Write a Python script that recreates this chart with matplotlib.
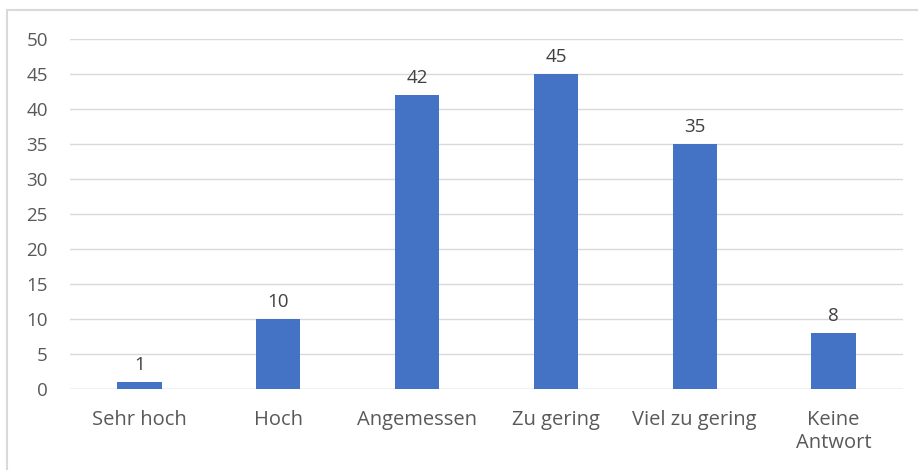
import matplotlib.pyplot as plt
from matplotlib.patches import Rectangle

categories = ['Sehr hoch', 'Hoch', 'Angemessen', 'Zu gering', 'Viel zu gering', 'Keine\nAntwort']
values = [1, 10, 42, 45, 35, 8]
yticks = [0, 5, 10, 15, 20, 25, 30, 35, 40, 45, 50]

plt.rcParams['font.family'] = ['Open Sans', 'DejaVu Sans']
text_col = '#595959'
grid_col = '#d9d9d9'

fig = plt.figure(figsize=(9.18, 4.7), dpi=100)
ax = fig.add_axes([70 / 918, 1 - 389 / 470, 833 / 918, 350 / 470])

# chart frame
fig.patches.append(Rectangle((7 / 918, -0.05), 1.0, 1 - 10 / 470 + 0.05,
                             transform=fig.transFigure, fill=False,
                             edgecolor=grid_col, linewidth=1.5))

x = range(len(categories))
bars = ax.bar(x, values, width=0.32, color='#4472C4', zorder=3)
for b, v in zip(bars, values):
    ax.text(b.get_x() + b.get_width() / 2, v + 1.2, str(v), ha='center', va='bottom',
            fontsize=13.5, color='#404040')

ax.set_xlim(-0.5, len(categories) - 0.5)
ax.set_ylim(0, 50)
ax.set_yticks(yticks)
ax.set_xticks(list(x))
ax.set_xticklabels(categories, fontsize=14.5, color=text_col, linespacing=1.2)
ax.tick_params(axis='y', labelsize=13.5, labelcolor=text_col, length=0, pad=16)
ax.tick_params(axis='x', length=0, pad=15)
ax.grid(axis='y', color=grid_col, linewidth=1, zorder=0)
for s in ax.spines.values():
    s.set_visible(False)
ax.axhline(0, color=grid_col, linewidth=1, zorder=1)

fig.savefig('out.png', dpi=100)
